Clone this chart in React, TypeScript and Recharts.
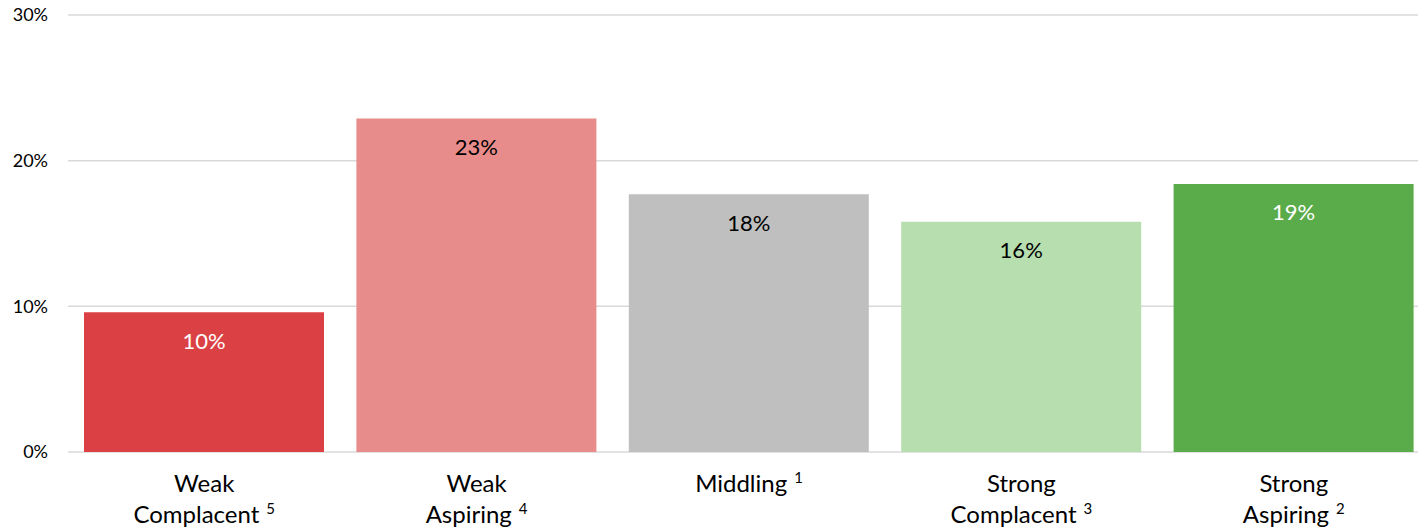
import React from "react";
import { BarChart, Bar, XAxis, YAxis, CartesianGrid, Cell, LabelList } from "recharts";

const categories = ["Weak Complacent", "Weak Aspiring", "Middling", "Strong Complacent", "Strong Aspiring"];
const categoryLines = [["Weak", "Complacent"], ["Weak", "Aspiring"], ["Middling"], ["Strong", "Complacent"], ["Strong", "Aspiring"]];
const footnotes = ["5", "4", "1", "3", "2"];
const values = [9.6, 22.9, 17.7, 15.8, 18.4];
const valueLabels = ["10%", "23%", "18%", "16%", "19%"];
const barColors = ["#DB4144", "#E88C8B", "#BFBFBF", "#B6DEAE", "#5AAB4A"];
const labelColors = ["#FFFFFF", "#000000", "#000000", "#000000", "#FFFFFF"];
const yTicks = [0, 10, 20, 30];

const data = categories.map((name, i) => ({ name, value: values[i], label: valueLabels[i], idx: i }));

const FONT = "Lato, 'Open Sans', sans-serif";

const CategoryTick = (props: any) => {
  const { x, y, payload } = props;
  const i = categories.indexOf(payload.value);
  const lines = categoryLines[i] || [payload.value];
  return (
    <g>
      {lines.map((ln, k) => {
        const last = k === lines.length - 1;
        return (
          <text key={k} x={x} y={y + 40 + k * 31} textAnchor="middle" fill="#000" fontSize={24} fontFamily={FONT}>
            <tspan>{ln}</tspan>
            {last ? (
              <tspan dx={7} dy={-9} fontSize={15}>{footnotes[i]}</tspan>
            ) : null}
          </text>
        );
      })}
    </g>
  );
};

const ValueLabel = (props: any) => {
  const { x, y, width, index } = props;
  return (
    <text x={x + width / 2} y={y + 28} textAnchor="middle" dominantBaseline="central" fill={labelColors[index]} fontSize={22} fontFamily={FONT}>
      {valueLabels[index]}
    </text>
  );
};

export default function App() {
  return (
    <div style={{ position: "absolute", left: 0, top: 0, width: 1418, height: 532, overflow: "hidden", background: "#fff" }}>
      <BarChart width={1430} height={532} data={data} margin={{ top: 15, right: 0, left: 0, bottom: 0 }} barCategoryGap={16}>
        <CartesianGrid vertical={false} stroke="#D9D9D9" strokeWidth={1.5} />
        <XAxis dataKey="name" axisLine={false} tickLine={false} tickSize={0} tickMargin={0} height={80} interval={0} tick={<CategoryTick />} />
        <YAxis
          domain={[0, 30]}
          ticks={yTicks}
          tickFormatter={(v: number) => `${v}%`}
          axisLine={false}
          tickLine={false}
          tickSize={0}
          tickMargin={20}
          width={68}
          tick={{ fill: "#000", fontSize: 18, fontFamily: FONT }}
        />
        <Bar dataKey="value" isAnimationActive={false}>
          {data.map((d, i) => (
            <Cell key={i} fill={barColors[i]} />
          ))}
          <LabelList dataKey="label" content={<ValueLabel />} />
        </Bar>
      </BarChart>
    </div>
  );
}
